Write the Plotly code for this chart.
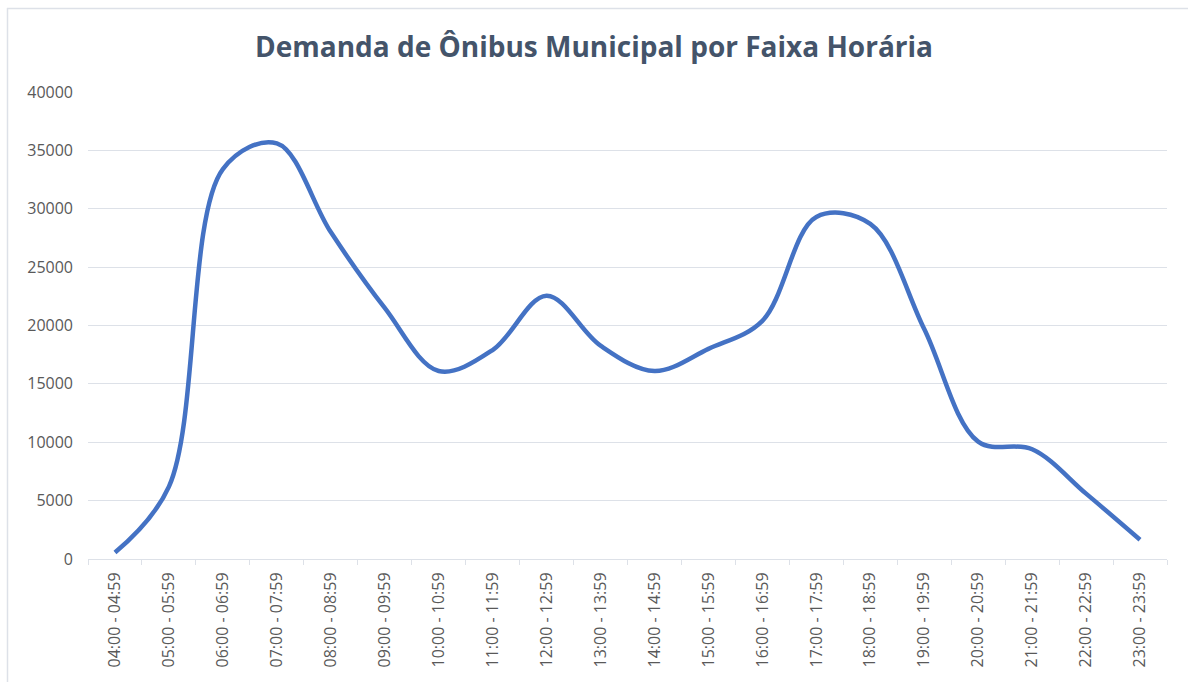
import plotly.graph_objects as go

categories = ["04:00 - 04:59", "05:00 - 05:59", "06:00 - 06:59", "07:00 - 07:59",
              "08:00 - 08:59", "09:00 - 09:59", "10:00 - 10:59", "11:00 - 11:59",
              "12:00 - 12:59", "13:00 - 13:59", "14:00 - 14:59", "15:00 - 15:59",
              "16:00 - 16:59", "17:00 - 17:59", "18:00 - 18:59", "19:00 - 19:59",
              "20:00 - 20:59", "21:00 - 21:59", "22:00 - 22:59", "23:00 - 23:59"]
demanda = [550, 6200, 33400, 35600, 28000, 21500, 16100, 17900, 22550, 18270,
           16100, 18000, 20400, 29300, 28700, 19700, 10050, 9400, 5600, 1650]
y_ticks = [0, 5000, 10000, 15000, 20000, 25000, 30000, 35000, 40000]

W, H = 1188, 682
L, R, T, B = 88, 21, 92, 123
pw, ph = W - L - R, H - T - B

border_color = "#DDE1E8"

fig = go.Figure()
fig.add_trace(go.Scatter(
    x=categories, y=demanda, mode="lines",
    line=dict(color="#4472C4", width=4.5, shape="spline", smoothing=1),
    hoverinfo="x+y", showlegend=False,
))

fig.update_layout(
    width=W, height=H,
    margin=dict(l=L, r=R, t=T, b=B),
    paper_bgcolor="white", plot_bgcolor="white",
    title=dict(text="<b>Demanda de Ônibus Municipal por Faixa Horária</b>",
               x=0.5, xanchor="center", y=1 - 47 / H, yanchor="middle",
               font=dict(family="Open Sans", size=28, color="#44546A")),
    font=dict(family="Open Sans", color="#595959"),
    xaxis=dict(type="category", tickangle=-90, tickson="boundaries",
               ticks="outside", ticklen=5, tickcolor=border_color,
               showline=True, linecolor=border_color, linewidth=1,
               showgrid=False, tickfont=dict(size=16, color="#595959"),
               ticklabelstandoff=6,
               range=[-0.5, len(categories) - 0.5]),
    yaxis=dict(range=[0, 40000], tickvals=y_ticks, ticktext=[str(v) for v in y_ticks],
               showgrid=True, gridcolor=border_color, gridwidth=1,
               zeroline=False, showline=False, ticks="",
               tickfont=dict(size=16, color="#595959"), ticklabelstandoff=14),
    shapes=[
        dict(type="line", xref="paper", yref="paper",
             x0=(7 - L) / pw, x1=(W - L) / pw,
             y0=(H - B - 8.5) / ph, y1=(H - B - 8.5) / ph,
             line=dict(color=border_color, width=1.5)),
        dict(type="line", xref="paper", yref="paper",
             x0=(7.5 - L) / pw, x1=(7.5 - L) / pw,
             y0=(H - B - 8) / ph, y1=-(H - (H - B)) / ph,
             line=dict(color=border_color, width=1.5)),
    ],
)

fig.write_html("out.html", config={"displayModeBar": False},
               post_script="document.body.style.margin='0';")
